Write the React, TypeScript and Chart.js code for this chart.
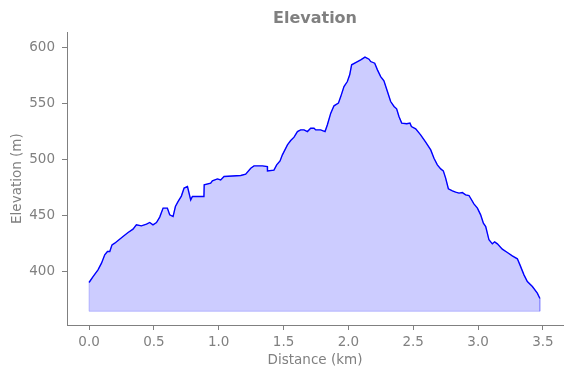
import React, { useEffect, useRef } from "react";
import { Chart, registerables } from "chart.js";

Chart.register(...registerables);

const distanceKm = [
  0.0, 0.031, 0.069, 0.096, 0.121, 0.142, 0.16, 0.177, 0.198, 0.224, 0.262, 0.301, 0.339, 0.365,
  0.404, 0.443, 0.468, 0.493, 0.52, 0.545, 0.571, 0.604, 0.622, 0.648, 0.666, 0.686, 0.712, 0.733,
  0.759, 0.784, 0.797, 0.886, 0.888, 0.938, 0.951, 0.99, 1.015, 1.041, 1.17, 1.208, 1.247, 1.272,
  1.337, 1.375, 1.376, 1.426, 1.447, 1.473, 1.491, 1.53, 1.555, 1.581, 1.607, 1.632, 1.658, 1.684,
  1.709, 1.735, 1.748, 1.786, 1.82, 1.838, 1.864, 1.889, 1.923, 1.941, 1.966, 1.992, 2.01, 2.025,
  2.056, 2.095, 2.128, 2.159, 2.172, 2.203, 2.224, 2.249, 2.274, 2.301, 2.326, 2.352, 2.372, 2.39,
  2.411, 2.45, 2.475, 2.486, 2.519, 2.557, 2.596, 2.635, 2.66, 2.686, 2.712, 2.732, 2.75, 2.771,
  2.802, 2.827, 2.853, 2.879, 2.904, 2.93, 2.968, 2.995, 3.02, 3.041, 3.059, 3.084, 3.11, 3.128,
  3.149, 3.187, 3.226, 3.264, 3.303, 3.323, 3.354, 3.38, 3.419, 3.457, 3.477,
];

const elevationM = [
  390.6, 395.9, 401.9, 407.8, 415.2, 418.2, 418.2, 424.1, 425.6, 428.0, 431.5, 435.1, 438.1, 441.9,
  441.0, 442.5, 444.0, 441.9, 444.0, 448.8, 456.8, 456.8, 450.8, 449.3, 458.2, 462.6, 467.5, 474.6,
  476.0, 464.1, 467.1, 467.1, 477.5, 479.0, 481.1, 482.8, 481.9, 484.9, 485.8, 487.0, 492.3, 494.4,
  494.4, 493.8, 489.9, 490.6, 495.3, 498.8, 504.2, 513.1, 516.9, 519.9, 524.9, 526.4, 526.4, 524.9,
  527.9, 527.9, 526.4, 526.4, 524.9, 530.9, 541.3, 547.8, 550.2, 556.0, 564.9, 569.4, 575.4, 584.3,
  586.3, 588.7, 591.1, 589.3, 587.2, 585.7, 579.8, 573.8, 570.0, 560.5, 551.6, 547.2, 545.1, 538.3,
  532.4, 531.8, 532.4, 529.4, 527.3, 522.0, 515.5, 508.6, 501.2, 495.3, 491.7, 489.9, 483.5, 474.0,
  472.2, 471.0, 470.1, 470.6, 468.6, 468.0, 460.6, 456.8, 450.8, 443.4, 440.4, 428.6, 425.0, 426.8,
  425.0, 420.3, 417.3, 414.3, 411.7, 406.3, 397.4, 391.5, 387.0, 381.1, 376.4,
];

const baselineM = 365;
const xTickValues = [0, 0.5, 1.0, 1.5, 2.0, 2.5, 3.0, 3.5];
const yTickValues = [400, 450, 500, 550, 600];

const GRAY = "#808080";
const FONT = "'DejaVu Sans', sans-serif";

export default function App() {
  const canvasRef = useRef<HTMLCanvasElement | null>(null);

  useEffect(() => {
    document.body.style.margin = "0";
    const canvas = canvasRef.current;
    if (!canvas) return;

    const profile = distanceKm.map((d, i) => ({ x: d, y: elevationM[i] }));
    const endX = distanceKm[distanceKm.length - 1];
    const area = [{ x: 0, y: baselineM }, ...profile, { x: endX, y: baselineM }];
    const base = [
      { x: 0, y: baselineM },
      { x: endX, y: baselineM },
    ];

    const chart = new Chart(canvas, {
      type: "line",
      data: {
        datasets: [
          {
            data: profile,
            borderColor: "#0000ff",
            borderWidth: 1.4,
            pointRadius: 0,
            tension: 0,
            fill: false,
          },
          {
            data: area,
            borderColor: "rgba(0,0,255,0.2)",
            backgroundColor: "rgba(0,0,255,0.2)",
            borderWidth: 1,
            pointRadius: 0,
            tension: 0,
            fill: { value: baselineM },
          },
          {
            data: base,
            borderColor: "rgba(0,0,255,0.2)",
            borderWidth: 1,
            pointRadius: 0,
            fill: false,
          },
        ],
      },
      options: {
        responsive: false,
        animation: false,
        devicePixelRatio: 1,
        layout: { padding: { left: 0, right: 8, top: 0, bottom: 0 } },
        plugins: {
          legend: { display: false },
          tooltip: { enabled: false },
          title: {
            display: true,
            text: "Elevation",
            color: GRAY,
            fullSize: false,
            font: { family: FONT, size: 16, weight: "bold", lineHeight: 1.2 },
            padding: { top: 9, bottom: 4 },
          },
        },
        scales: {
          x: {
            type: "linear",
            min: -0.17,
            max: 3.655,
            afterBuildTicks: (scale: any) => {
              scale.ticks = xTickValues.map((v) => ({ value: v }));
            },
            afterFit: (scale: any) => {
              scale.height = 53;
            },
            ticks: {
              color: GRAY,
              font: { family: FONT, size: 13.5 },
              padding: 4,
              maxRotation: 0,
              autoSkip: false,
              callback: (v: any) => Number(v).toFixed(1),
            },
            grid: {
              display: true,
              drawOnChartArea: false,
              drawTicks: true,
              tickLength: 5,
              tickColor: GRAY,
            },
            border: { display: true, color: GRAY, width: 1 },
            title: {
              display: true,
              text: "Distance (km)",
              color: GRAY,
              font: { family: FONT, size: 13.5, lineHeight: 1.2 },
              padding: { top: 0, bottom: 9 },
            },
          },
          y: {
            type: "linear",
            min: 352.8,
            max: 613.3,
            afterBuildTicks: (scale: any) => {
              scale.ticks = yTickValues.map((v) => ({ value: v }));
            },
            afterFit: (scale: any) => {
              scale.width = 67;
            },
            ticks: {
              color: GRAY,
              font: { family: FONT, size: 13.5 },
              padding: 7,
              autoSkip: false,
              callback: (v: any) => String(v),
            },
            grid: {
              display: true,
              drawOnChartArea: false,
              drawTicks: true,
              tickLength: 5,
              tickColor: GRAY,
            },
            border: { display: true, color: GRAY, width: 1 },
            title: {
              display: true,
              text: "Elevation (m)",
              color: GRAY,
              font: { family: FONT, size: 13.5, lineHeight: 1.2 },
              padding: { top: 9, bottom: 0 },
            },
          },
        },
      },
    } as any);

    return () => {
      chart.destroy();
    };
  }, []);

  return (
    <div style={{ width: 571, height: 378 }}>
      <canvas ref={canvasRef} width={571} height={378} style={{ display: "block" }} />
    </div>
  );
}
